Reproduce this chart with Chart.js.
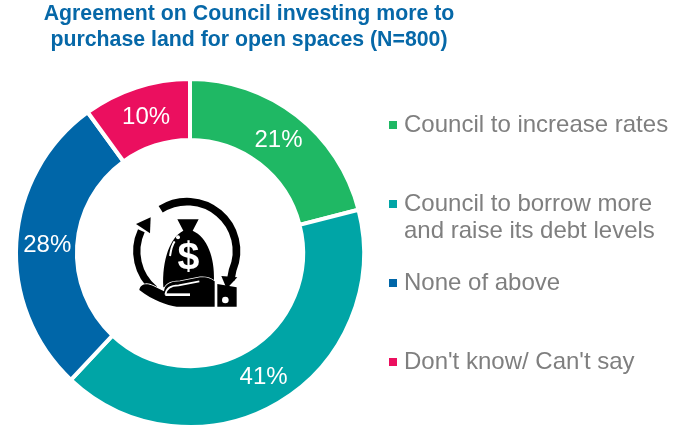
<!DOCTYPE html>
<html>
<head>
<meta charset="utf-8">
<script src="https://cdn.jsdelivr.net/npm/chart.js@4"></script>
<style>
  html, body { margin: 0; padding: 0; background: #fff; overflow: hidden; }
  body { width: 673px; height: 425px; position: relative; font-family: "Liberation Sans", Arial, sans-serif; }
  #wrap { position: absolute; left: 0; top: 0; width: 673px; height: 440px; }
  #title { position: absolute; left: 0; top: 0; width: 498px; text-align: center; color: #0668A8; font-weight: bold; font-size: 21.3px; line-height: 26px; white-space: nowrap; }
  #legend .row { position: absolute; left: 388px; color: #7F7F7F; font-size: 24px; line-height: 27px; padding-left: 16px; white-space: nowrap; }
  #legend .box { position: absolute; left: 1px; top: 11px; width: 8px; height: 8px; }
  #icon { position: absolute; left: 120px; top: 180px; width: 130px; height: 140px; }
</style>
</head>
<body>
<div id="wrap"><canvas id="donut"></canvas></div>
<div id="title">Agreement on Council investing more to<br>purchase land for open spaces (N=800)</div>
<div id="legend"></div>
<svg id="icon" viewBox="0 0 390 420">
  <!-- circular arrows -->
  <path d="M122 88 A148 148 0 0 1 338 270 L332 300" fill="none" stroke="#000" stroke-width="23"/>
  <path d="M304 288 L352 292 L320 326 Z" fill="#000"/>
  <path d="M104 328 A148 148 0 0 1 64 152" fill="none" stroke="#000" stroke-width="22"/>
  <path d="M48 132 L92 112 L90 160 Z" fill="#000"/>
  <!-- bag -->
  <path d="M172 118 L236 118 L218 152 C262 172 284 232 282 300 L240 310 L130 322 C126 240 150 172 190 152 Z" fill="#000"/>
  <path d="M150 228 C153 208 158 192 164 184" fill="none" stroke="#fff" stroke-width="6"/>
  <circle cx="174" cy="172" r="6" fill="#fff"/>
  <text x="205" y="266" text-anchor="middle" font-family="Liberation Sans" font-weight="bold" font-size="118" fill="#fff">$</text>
  <!-- hand -->
  <path d="M58 330 C60 312 80 308 100 318 L132 334 C134 314 150 304 180 304 L240 292 C262 290 274 296 284 304 L284 380 L170 380 C140 376 100 362 58 330 Z" fill="#000" stroke="#fff" stroke-width="5" paint-order="stroke"/>
  <path d="M136 344 L210 344" fill="none" stroke="#fff" stroke-width="8"/>
  <path d="M136 344 C138 326 152 316 176 316 L238 304" fill="none" stroke="#fff" stroke-width="5"/>
  <!-- cuff -->
  <path d="M292 312 L350 322 L350 380 L292 380 Z" fill="#000"/>
  <circle cx="316" cy="360" r="10" fill="#fff"/>
</svg>
<script>
const categories = ["Council to increase rates", "Council to borrow more\nand raise its debt levels", "None of above", "Don't know/ Can't say"];
const shares = [21, 41, 28, 10];
const sliceColors = ["#1FB864", "#00A5A6", "#0066A8", "#EB0F5F"];
const legendTops = [110, 189, 268, 347];

// custom html legend, the built in one can't space rows like this
const legendEl = document.getElementById("legend");
categories.forEach((name, i) => {
  const row = document.createElement("div");
  row.className = "row";
  row.style.top = legendTops[i] + "px";
  row.innerHTML = name.replace("\n", "<br>");
  const box = document.createElement("span");
  box.className = "box";
  box.style.background = sliceColors[i];
  row.appendChild(box);
  legendEl.appendChild(row);
});

// percentage labels in the middle of each slice
const sliceLabels = {
  id: "sliceLabels",
  afterDatasetsDraw(chart) {
    const ctx = chart.ctx;
    ctx.save();
    ctx.font = '24px "Liberation Sans"';
    ctx.fillStyle = "#fff";
    ctx.textAlign = "center";
    ctx.textBaseline = "middle";
    chart.getDatasetMeta(0).data.forEach((arc, i) => {
      const pos = arc.tooltipPosition();
      ctx.fillText(shares[i] + "%", pos.x + 0.5, pos.y + 1);
    });
    ctx.restore();
  }
};

new Chart(document.getElementById("donut"), {
  type: "doughnut",
  data: {
    labels: categories,
    datasets: [{
      data: shares,
      backgroundColor: sliceColors,
      borderColor: "#fff",
      borderWidth: 4
    }]
  },
  options: {
    responsive: true,
    maintainAspectRatio: false,
    animation: false,
    cutout: "65%",
    layout: { padding: { left: 14, top: 77, right: 307, bottom: 11 } },
    plugins: {
      legend: { display: false },
      tooltip: { enabled: false }
    }
  },
  plugins: [sliceLabels]
});
</script>
</body>
</html>
